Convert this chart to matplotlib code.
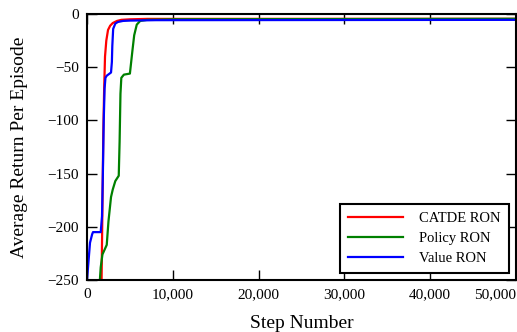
import matplotlib
matplotlib.use("Agg")
import matplotlib.pyplot as plt

plt.rcParams['font.family'] = ['Liberation Serif', 'DejaVu Serif']

catde_steps = [1700, 1750, 1800, 1850, 1900, 2000, 2100, 2250, 2450, 2700, 3000, 3500, 4000, 5000, 7000, 50000]
catde_vals = [-250, -215, -180, -145, -112, -70, -40, -25, -15, -11, -8.5, -6.5, -5.5, -5, -4.6, -4.5]

policy_steps = [1500, 1600, 1800, 2300, 2500, 2800, 3000, 3300, 3700, 3800, 3900, 4000, 4300, 5000, 5150, 5300, 5500, 5800, 6200, 7000, 10000, 50000]
policy_vals = [-250, -238, -226, -217, -195, -172, -165, -157, -152, -120, -75, -60, -57, -56, -45, -34, -20, -10, -6.5, -5.5, -5, -4.5]

value_steps = [0, 150, 350, 600, 700, 1600, 1750, 1850, 1950, 2050, 2150, 2300, 2800, 2900, 2950, 3050, 3300, 3600, 4200, 5000, 8000, 50000]
value_vals = [-250, -235, -215, -207, -205, -205, -190, -150, -100, -70, -60, -58, -55, -45, -30, -14, -9, -7.5, -6.5, -6.2, -5.8, -5.5]

xticks = [0, 10000, 20000, 30000, 40000, 50000]
xtick_labels = ["0", "10,000", "20,000", "30,000", "40,000", "50,000"]
yticks = [0, -50, -100, -150, -200, -250]
ytick_labels = ["0", "\u221250", "\u2212100", "\u2212150", "\u2212200", "\u2212250"]

fig = plt.figure(figsize=(5.17, 3.32), dpi=100)
ax = fig.add_axes([87/517, 1-280/332, (516-87)/517, (280-14)/332])

ax.plot(catde_steps, catde_vals, color='red', lw=1.6, label='CATDE RON')
ax.plot(policy_steps, policy_vals, color='green', lw=1.6, label='Policy RON')
ax.plot(value_steps, value_vals, color='blue', lw=1.6, label='Value RON')

ax.set_xlim(0, 50000)
ax.set_ylim(-250, 0)
ax.set_xticks(xticks)
labels = ax.set_xticklabels(xtick_labels, fontsize=11)
labels[-1].set_horizontalalignment('right')
ax.set_yticks(yticks)
ax.set_yticklabels(ytick_labels, fontsize=11)
ax.tick_params(direction='in', length=7, width=1, top=True, right=True, pad=6)
for s in ax.spines.values():
    s.set_linewidth(1.5)

ax.set_xlabel('Step Number', fontsize=14, labelpad=10)
ax.set_ylabel('Average Return Per Episode', fontsize=14, labelpad=14)

leg = ax.legend(loc='lower right', fontsize=10.5, handlelength=3.8, handletextpad=1.1,
                fancybox=False, framealpha=1, edgecolor='black', borderaxespad=0.5,
                labelspacing=0.45, borderpad=0.55)
leg.get_frame().set_linewidth(1.5)

fig.savefig('out.png', dpi=100, facecolor='white')
